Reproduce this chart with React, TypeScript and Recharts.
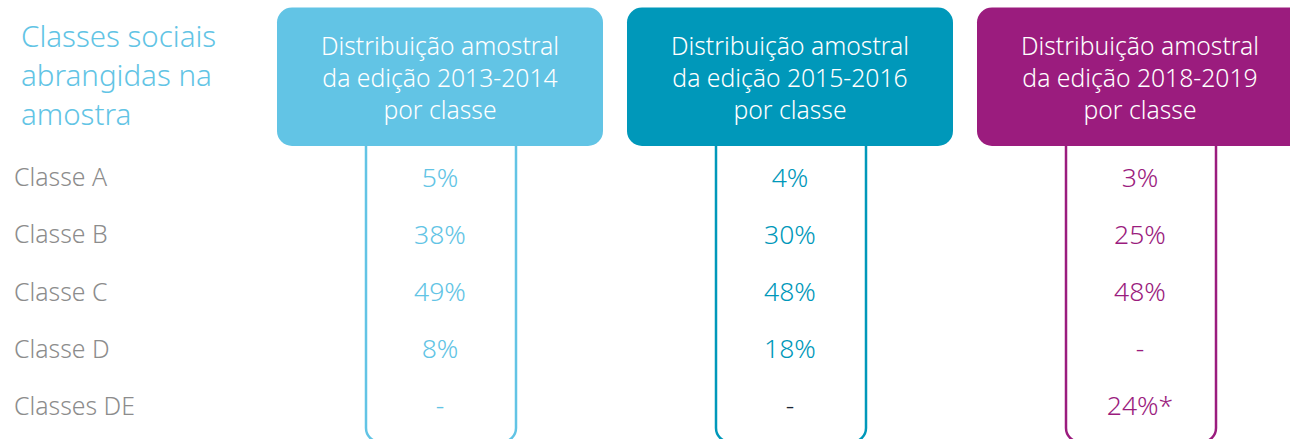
import React from 'react';
import { ComposedChart, XAxis, YAxis, Scatter, Customized } from 'recharts';

// ---- data ----
const titleLines = ['Classes sociais', 'abrangidas na', 'amostra'];
const classes = ['Classe A', 'Classe B', 'Classe C', 'Classe D', 'Classes DE'];
const editions = ['2013-2014', '2015-2016', '2018-2019'];
const values2013: (number | null)[] = [5, 38, 49, 8, null];
const values2015: (number | null)[] = [4, 30, 48, 18, null];
const values2018: (number | null)[] = [3, 25, 48, null, 24];
const notes2013 = ['', '', '', '', ''];
const notes2015 = ['', '', '', '', ''];
const notes2018 = ['', '', '', '', '*'];

// ---- styles ----
const FONT = '"Noto Sans", sans-serif';
const WEIGHT = 300;
const COLORS = ['#62C4E5', '#0098BA', '#9B1C7E'];
const DASH_COLORS = ['#62C4E5', '#1B2633', '#9B1C7E'];
const LABEL_GRAY = '#8C8C8C';

const allValues = [values2013, values2015, values2018];
const allNotes = [notes2013, notes2015, notes2018];

const seriesData = allValues.map((vals, i) =>
  classes.map((c, j) => ({
    edition: editions[i],
    classe: c,
    label: vals[j] == null ? '-' : `${vals[j]}%${allNotes[i][j]}`,
  }))
);

const HeaderTick = (props: any) => {
  const { x, payload } = props;
  const idx = editions.indexOf(payload.value);
  const color = COLORS[idx];
  const lines = ['Distribuição amostral', `da edição ${payload.value}`, 'por classe'];
  return (
    <g>
      <rect x={x - 74} y={130} width={150} height={312} rx={14} ry={14} fill="none" stroke={color} strokeWidth={2.5} />
      <rect x={x - 163} y={7.5} width={326} height={138.5} rx={15} ry={15} fill={color} />
      {lines.map((l, k) => (
        <text key={k} x={x} y={54.5 + k * 32} textAnchor="middle" fill="#FFFFFF" fontSize={24.7} fontWeight={WEIGHT} fontFamily={FONT}>
          {l}
        </text>
      ))}
    </g>
  );
};

const RowTick = (props: any) => {
  const { y, payload } = props;
  return (
    <text x={14} y={y + 8.5} textAnchor="start" fill={LABEL_GRAY} fontSize={24.8} fontWeight={WEIGHT} fontFamily={FONT}>
      {payload.value}
    </text>
  );
};

const makeShape = (i: number) => (props: any) => {
  const { cx, cy, payload } = props;
  const isDash = payload.label === '-';
  return (
    <text x={cx} y={cy + 9} textAnchor="middle" fill={isDash ? DASH_COLORS[i] : COLORS[i]} fontSize={26.5} fontWeight={WEIGHT} fontFamily={FONT}>
      {payload.label}
    </text>
  );
};

const Title = () => (
  <g>
    {titleLines.map((l, k) => (
      <text key={k} x={21} y={47 + k * 39} fill={COLORS[0]} fontSize={29.5} fontWeight={WEIGHT} fontFamily={FONT}>
        {l}
      </text>
    ))}
  </g>
);

export default function App() {
  return (
    <div style={{ position: 'absolute', left: 0, top: 0, width: 1290, height: 439, overflow: 'hidden', background: '#fff' }}>
      <ComposedChart width={1315} height={439} margin={{ top: 0, right: 0, bottom: 4, left: 0 }}>
        <XAxis
          xAxisId="x"
          type="category"
          dataKey="edition"
          orientation="top"
          height={149}
          padding={{ left: 175, right: 175 }}
          allowDuplicatedCategory={false}
          axisLine={false}
          tickLine={false}
          tick={<HeaderTick />}
          interval={0}
        />
        <YAxis
          yAxisId="y"
          type="category"
          dataKey="classe"
          width={265}
          reversed
          padding={{ top: 28.6, bottom: 28.6 }}
          allowDuplicatedCategory={false}
          axisLine={false}
          tickLine={false}
          tick={<RowTick />}
          interval={0}
        />
        {seriesData.map((d, i) => (
          <Scatter key={i} xAxisId="x" yAxisId="y" data={d} shape={makeShape(i)} isAnimationActive={false} />
        ))}
        <Customized component={Title} />
      </ComposedChart>
    </div>
  );
}
